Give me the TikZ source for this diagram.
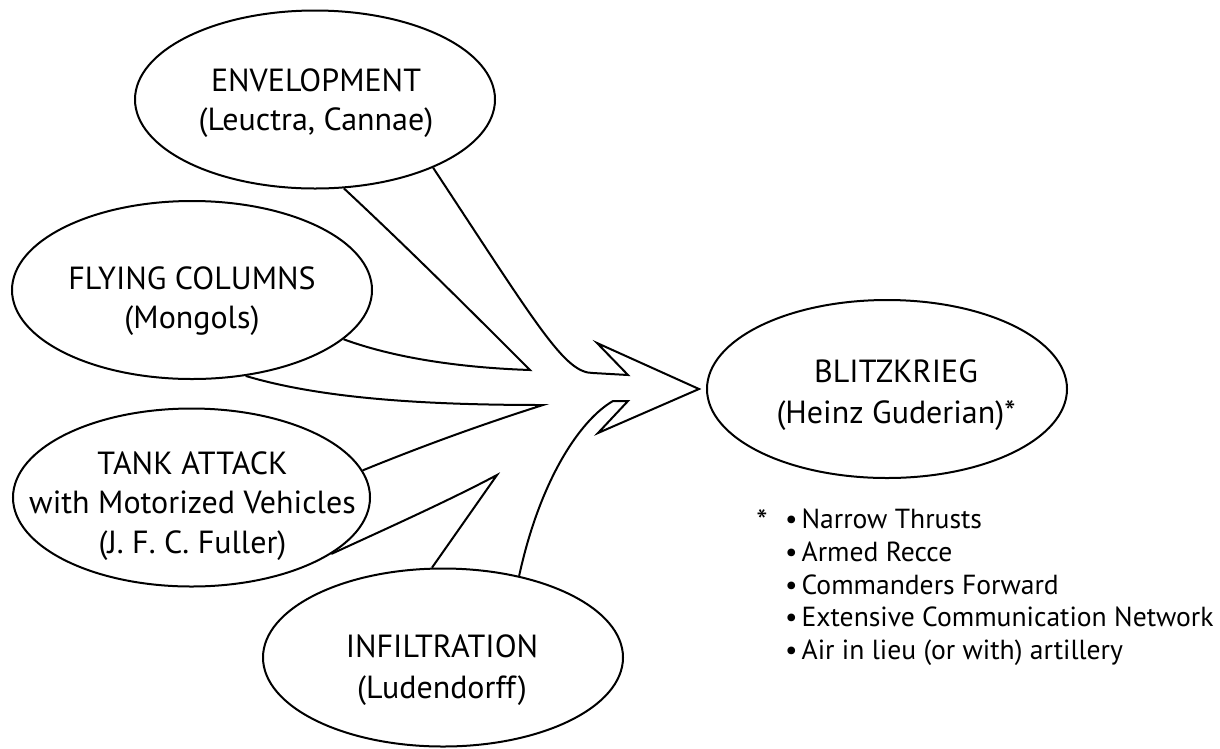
\documentclass[tikz,border=0pt]{standalone}
\usepackage{fontspec}
\setmainfont{PT Sans}
\usetikzlibrary{shapes.geometric,calc}
\begin{document}
\begin{tikzpicture}[x=1pt,y=-1pt,
  ell/.style={draw, ellipse, line width=2pt, inner sep=0pt, minimum width=360pt, minimum height=178pt},
  lbl/.style={align=center, inner sep=0pt, font=\fontsize{32}{39.5}\selectfont},
  arm/.style={line width=2pt, line join=miter}]
\useasboundingbox (0,0) rectangle (1220,748);
% ellipses
\node[ell] (env) at (315,99.5) {};
\node[ell] (fly) at (192,290) {};
\node[ell, minimum width=357pt] (tank) at (191.5,497.5) {};
\node[ell] (inf) at (443,657.5) {};
\node[ell] (blitz) at (887,389) {};
% labels
\node[lbl] (envT) at (316,103) {ENVELOPMENT\\(Leuctra, Cannae)};
\node[lbl] (flyT) at (192,301) {FLYING COLUMNS\\(Mongols)};
\node[lbl] (tankT) at (192.5,506) {TANK ATTACK\\with Motorized Vehicles\\(J. F. C. Fuller)};
\node[lbl, font=\fontsize{32}{41}\selectfont] (infT) at (442,670.5) {INFILTRATION\\(Ludendorff)};
\node[lbl, font=\fontsize{32}{41}\selectfont] (blitzT) at (896,395.5) {BLITZKRIEG\\(Heinz Guderian)*};
% arrow geometry
\coordinate (tip) at ($(blitz.west)+(-7,0)$);
\coordinate (t1) at (530,370);
\coordinate (t2) at (543,405);
\coordinate (t3) at (497,475);
\coordinate (u1) at (593,373);
\coordinate (u2) at (628,375);
\coordinate (u3) at (597,343);
\coordinate (l3) at (598,433);
\coordinate (l2) at (628,401);
\coordinate (l1) at (613,401);
% arms
\draw[arm] (env.-72.4) .. controls (410,250) and (470,310) .. (t1)
  .. controls (470,368) and (400,360) .. (fly.-18.7);
\draw[arm] (fly.-58.4) .. controls (320,398) and (420,405) .. (t2)
  .. controls (480,425) and (420,447) .. (tank.9.5);
\draw[arm] (tank.-22.4) .. controls (390,527) and (450,500) .. (t3) -- (inf.97);
\draw[arm] (env.-30.3) .. controls (540,330) and (565,373) .. (u1) -- (u2) -- (u3)
  -- (tip) -- (l3) -- (l2) -- (l1) .. controls (580,420) and (540,480) .. (inf.47.6);
% notes
\node[anchor=base, inner sep=0pt, font=\fontsize{32}{32}\selectfont] (star) at (762,532) {*};
\node[anchor=north west, align=left, inner sep=0pt, font=\fontsize{27.6}{32.7}\selectfont] (notes) at (785,509)
  {•\hspace{4pt}Narrow Thrusts\\•\hspace{4pt}Armed Recce\\•\hspace{4pt}Commanders Forward\\•\hspace{4pt}Extensive Communication Network\\•\hspace{4pt}Air in lieu (or with) artillery};
\end{tikzpicture}
\end{document}
